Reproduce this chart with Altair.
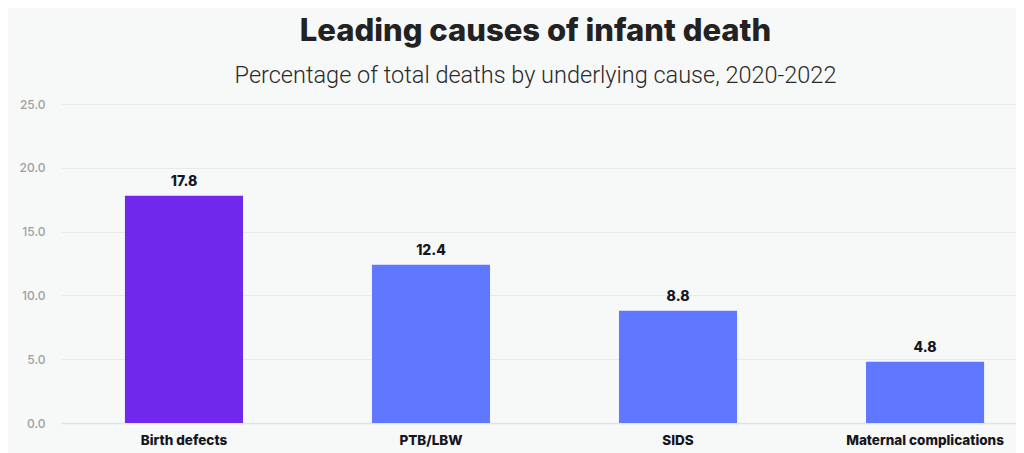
import altair as alt
import pandas as pd

causes = ["Birth defects", "PTB/LBW", "SIDS", "Maternal complications"]
values = [17.8, 12.4, 8.8, 4.8]
colors = ["#7028EC", "#6078FF", "#6078FF", "#6078FF"]

df = pd.DataFrame({"cause": causes, "value": values, "color": colors})

base = alt.Chart(df).encode(
    x=alt.X("cause:N", sort=causes, title=None,
            scale=alt.Scale(paddingInner=0.522, paddingOuter=0.194, align=0.667),
            axis=alt.Axis(labelAngle=0, labelFont="Inter", labelFontWeight=800,
                          labelFontSize=13.5, labelColor="#161622", labelPadding=10,
                          ticks=False, domain=True, domainColor="#dde3f3", domainWidth=1.5,
                          grid=False)),
    y=alt.Y("value:Q", title=None,
            scale=alt.Scale(domain=[0, 25]),
            axis=alt.Axis(values=[0, 5, 10, 15, 20, 25], format=".1f", ticks=False,
                          domain=False, labelFont="Inter", labelFontSize=12,
                          labelFontWeight=500, labelColor="#a0a0a0", labelPadding=16,
                          gridColor="#e9e9e9", gridWidth=1)),
)

bars = base.mark_bar().encode(color=alt.Color("color:N", scale=None))
labels = base.mark_text(dy=-14, font="Inter", fontWeight=800, fontSize=14,
                        color="#161622").encode(text=alt.Text("value:Q", format=".1f"))

chart = (bars + labels).properties(
    width=955, height=319,
    autosize=alt.AutoSizeParams(type="none"),
    padding={"left": 53, "top": 96, "right": 0, "bottom": 30},
    background="#f7f8f8",
    title=alt.TitleParams(
        text="Leading causes of infant death",
        subtitle="Percentage of total deaths by underlying cause, 2020-2022",
        anchor="middle", dx=-3, font="Inter", fontSize=31, fontWeight=800,
        color="#222222", subtitleFont="Roboto", subtitleFontSize=23.5,
        subtitleFontWeight=300, subtitleColor="#2a2a2a", subtitlePadding=16,
        offset=10,
    ),
).configure_view(stroke=None)

chart.save("out.html", embed_options={"renderer": "svg", "actions": False})
